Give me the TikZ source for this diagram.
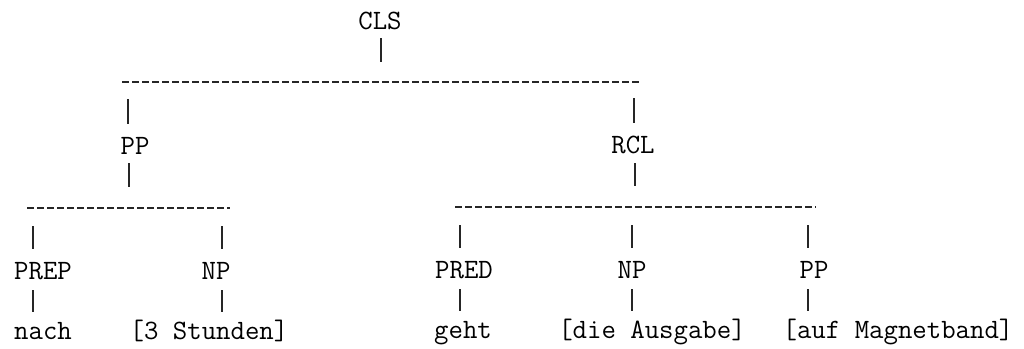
\documentclass[tikz,border=0pt]{standalone}
\usetikzlibrary{calc}
\begin{document}
\begin{tikzpicture}[x=1pt,y=-1pt,
  lbl/.style={anchor=base, inner sep=0pt, font=\fontsize{28}{30}\selectfont\ttfamily},
  bar/.style={line width=1.5pt, draw=black!85},
  rulerline/.style={line width=1.8pt, dash pattern=on 7pt off 3pt, draw=black!85}]
\fill[white] (0,0) rectangle (1024,348);
\useasboundingbox (0,0) rectangle (1024,348);

% category and word labels
\node[lbl] (cls)     at (380,29)  {CLS};
\node[lbl] (ppA)     at (135,154) {PP};
\node[lbl] (rcl)     at (633,153) {RCL};
\node[lbl] (prep)    at (43,279)  {PREP};
\node[lbl] (npA)     at (216,279) {NP};
\node[lbl] (pred)    at (464,278) {PRED};
\node[lbl] (npB)     at (632,278) {NP};
\node[lbl] (ppB)     at (814,278) {PP};
\node[lbl] (nach)    at (43,339)  {nach};
\node[lbl] (stunden) at (209,339) {[3 Stunden]};
\node[lbl] (geht)    at (463,338) {geht};
\node[lbl] (ausgabe) at (652,338) {[die Ausgabe]};
\node[lbl] (magnet)  at (898,338) {[auf Magnetband]};

% dashed branching rules
\coordinate (topL) at (122,82);  \coordinate (topR) at (640,82);
\coordinate (ppL)  at (27,208);  \coordinate (ppR)  at (230,208);
\coordinate (rcL)  at (455,207); \coordinate (rcR)  at (816,207);
\draw[rulerline] (topL) -- (topR);
\draw[rulerline] (ppL) -- (ppR);
\draw[rulerline] (rcL) -- (rcR);

% vertical strokes
\draw[bar] ($(cls.base)+(1,9)$) -- ++(0,24);
\draw[bar] ($(ppA.base)+(-7,-55)$) -- ++(0,25);
\draw[bar] ($(ppA.base)+(-6,9)$) -- ++(0,24);
\draw[bar] ($(rcl.base)+(1,-55)$) -- ++(0,25);
\draw[bar] ($(rcl.base)+(2,10)$) -- ++(0,23);
\foreach \n/\dx in {prep/-10, npA/6, pred/-4, npB/0, ppB/-6} {
  \draw[bar] ($(\n.base)+(\dx,-53)$) -- ++(0,23);
  \draw[bar] ($(\n.base)+(\dx,11)$) -- ++(0,22);
}
\end{tikzpicture}
\end{document}
